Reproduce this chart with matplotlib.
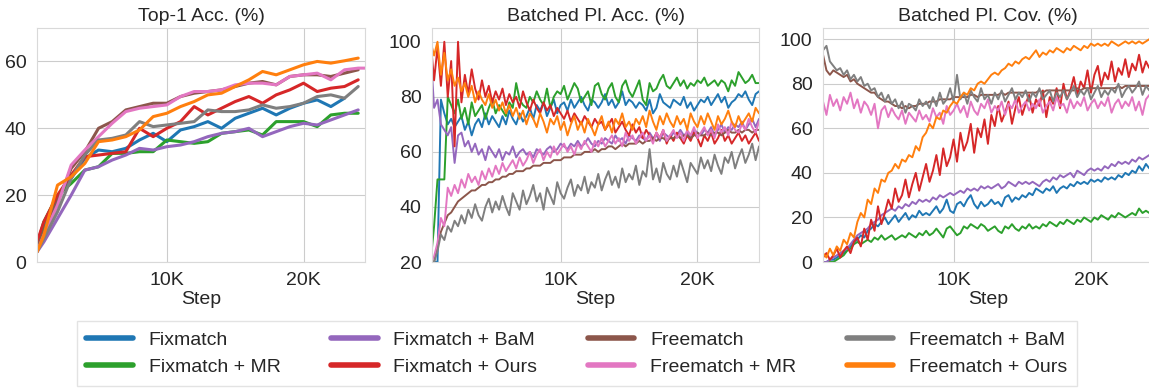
import numpy as np
import matplotlib
matplotlib.use('Agg')
import matplotlib.pyplot as plt
import seaborn as sns

sns.set_style('whitegrid')
plt.rcParams['font.family'] = ['Liberation Sans', 'DejaVu Sans']

# method names and colours (legend order)
methods = ['Fixmatch', 'Fixmatch + MR', 'Fixmatch + BaM', 'Fixmatch + Ours',
           'Freematch', 'Freematch + MR', 'Freematch + BaM', 'Freematch + Ours']
colors = ['tab:blue', 'tab:green', 'tab:purple', 'tab:red',
          'tab:brown', 'tab:pink', 'tab:gray', 'tab:orange']

# ---- Top-1 accuracy, evaluated every 1K steps ----
top1_steps = [500, 1000, 2000, 3000, 4000, 5000, 6000, 7000, 8000, 9000, 10000,
              11000, 12000, 13000, 14000, 15000, 16000, 17000, 18000, 19000,
              20000, 21000, 22000, 23000, 24000, 24500]
top1_fix = [4, 10, 19, 25, 31, 33.5, 33, 34, 36.5, 38.5, 36, 39.5, 40.5, 42, 40,
            43, 44.5, 46, 44, 46, 47.5, 48.5, 46.5, 49]
top1_fix_mr = [5, 12, 20, 23.5, 27.5, 28.5, 32.5, 32.5, 33, 33, 36.5, 36, 35.5, 36,
               38.5, 39, 39.5, 38, 42, 42, 42, 40.5, 44, 44.5, 44.5]
top1_fix_bam = [3, 6, 13, 20, 27.5, 28.5, 30.5, 32, 34, 33.5, 34.5, 35, 36, 37.5,
                38.5, 39, 40, 37.5, 39, 40.5, 41.5, 41, 42.5, 44, 45.5]
top1_fix_ours = [6, 12, 20, 26, 31.5, 32, 32.5, 33, 40, 37.5, 40, 42, 46.5, 44, 46,
                 48, 49.5, 47.5, 50, 51.5, 53.5, 51, 52, 52.5, 54.5]
top1_free = [4, 9, 18, 28, 33, 40, 42, 45.5, 46.5, 47.5, 47.5, 49.5, 50.5, 51, 51.5,
             52.5, 53.5, 54, 53, 55.5, 56, 56, 55.5, 56.5, 57.5]
top1_free_mr = [3, 8, 17, 29, 33.5, 37.5, 41.5, 45, 46, 46.5, 47, 49.5, 51, 51, 51.5,
                53, 53.5, 53.5, 53, 55.5, 56, 56.5, 54.5, 57.5, 58, 58]
top1_free_bam = [3, 7, 15, 25, 32, 36.5, 37, 38, 42, 40.5, 41, 41.5, 42, 45.5, 45,
                 45, 45.5, 47, 46, 46.5, 47.5, 49.5, 50, 49, 52.5]
top1_free_ours = [3, 8, 23, 25.5, 29.5, 36, 36.5, 37.5, 39.5, 43.5, 44.5, 46.5, 48,
                  50, 50.5, 52.5, 54.5, 57, 56, 57.5, 59, 60, 59.5, 60.2, 61]

# ---- batched pseudo-label accuracy / coverage, logged every 250 steps ----
pl_steps = np.arange(500, 24501, 250)

pacc_fix = [20, 20, 20, 79, 74, 70, 72, 69, 71, 73,
            68, 71, 66, 70, 72, 69, 74, 70, 73, 71,
            69, 73, 70, 75, 72, 70, 74, 71, 73, 76,
            72, 77, 75, 78, 73, 76, 79, 74, 77, 78,
            75, 79, 76, 78, 80, 77, 75, 79, 78, 76,
            78, 81, 77, 79, 76, 78, 82, 77, 79, 78,
            76, 78, 77, 75, 79, 74, 76, 81, 78, 77,
            76, 79, 78, 77, 80, 76, 78, 75, 77, 79,
            78, 80, 77, 79, 81, 78, 80, 76, 78, 79,
            81, 80, 82, 79, 77, 81, 82]
pacc_fix_mr = [20, 33, 50, 50, 50, 80, 77, 74, 79, 72,
               76, 70, 78, 73, 75, 77, 72, 76, 79, 74,
               77, 75, 73, 78, 76, 85, 79, 77, 76, 80,
               78, 82, 79, 77, 83, 76, 80, 82, 81, 84,
               79, 82, 85, 83, 78, 80, 82, 77, 84, 85,
               81, 79, 83, 85, 80, 78, 84, 86, 82, 80,
               83, 86, 79, 77, 85, 82, 83, 86, 88, 84,
               83, 85, 87, 84, 86, 83, 85, 84, 86, 85,
               87, 84, 85, 86, 84, 86, 85, 82, 86, 84,
               89, 87, 85, 86, 88, 85, 85]
pacc_fix_bam = [97, 76, 79, 70, 68, 66, 69, 56, 66, 67,
                62, 64, 60, 63, 59, 61, 57, 62, 60, 58,
                61, 57, 60, 59, 62, 58, 60, 61, 59, 60,
                58, 61, 60, 59, 61, 62, 60, 61, 63, 62,
                61, 63, 62, 64, 62, 63, 65, 63, 62, 64,
                63, 65, 64, 63, 66, 64, 65, 63, 66, 65,
                64, 66, 65, 64, 67, 65, 66, 64, 67, 66,
                65, 67, 66, 68, 66, 67, 65, 68, 67, 66,
                68, 67, 69, 66, 68, 70, 67, 69, 68, 70,
                69, 71, 68, 70, 72, 69, 72]
pacc_fix_ours = [100, 86, 98, 84, 100, 80, 93, 62, 100, 78,
                 88, 81, 90, 83, 79, 86, 80, 84, 78, 82,
                 79, 83, 77, 81, 78, 80, 76, 82, 78, 75,
                 79, 76, 74, 78, 75, 77, 73, 76, 74, 72,
                 75, 71, 74, 72, 70, 73, 71, 69, 72, 70,
                 71, 68, 70, 72, 67, 69, 71, 68, 66, 70,
                 67, 69, 65, 68, 66, 64, 67, 65, 68, 63,
                 66, 64, 67, 65, 63, 66, 64, 67, 65, 62,
                 66, 64, 67, 63, 65, 68, 64, 66, 63, 65,
                 67, 64, 66, 63, 65, 67, 64]
pacc_free = [20, 20, 26, 31, 34, 37, 38, 40, 42, 43,
             44, 45, 46, 46, 47, 48, 48, 49, 49, 50,
             50, 51, 51, 52, 52, 53, 53, 53, 54, 54,
             55, 55, 55, 56, 56, 56, 57, 57, 57, 58,
             58, 58, 59, 59, 59, 60, 60, 60, 61, 60,
             61, 61, 62, 62, 61, 62, 63, 62, 63, 63,
             63, 64, 63, 64, 64, 65, 64, 65, 65, 64,
             65, 65, 66, 65, 66, 66, 65, 66, 67, 66,
             66, 67, 66, 67, 67, 66, 67, 68, 67, 67,
             68, 67, 68, 68, 67, 68, 68]
pacc_free_mr = [20, 22, 27, 36, 33, 47, 44, 48, 45, 50,
                47, 52, 49, 51, 48, 53, 50, 54, 51, 55,
                52, 56, 53, 55, 57, 54, 58, 55, 57, 60,
                56, 59, 61, 57, 60, 58, 62, 59, 61, 63,
                60, 62, 59, 63, 61, 64, 62, 60, 64, 62,
                65, 62, 64, 66, 63, 65, 62, 67, 64, 66,
                63, 65, 67, 64, 66, 63, 67, 65, 68, 64,
                66, 68, 65, 67, 64, 68, 66, 69, 65, 67,
                69, 66, 68, 65, 70, 67, 69, 66, 71, 68,
                67, 70, 68, 72, 69, 67, 71]
pacc_free_bam = [20, 20, 24, 30, 28, 33, 31, 35, 33, 37,
                 34, 39, 36, 41, 37, 35, 40, 43, 38, 42,
                 39, 44, 40, 37, 45, 42, 39, 46, 41, 44,
                 48, 42, 45, 39, 47, 44, 41, 49, 45, 43,
                 47, 50, 44, 48, 46, 51, 45, 49, 47, 52,
                 46, 50, 53, 48, 51, 47, 54, 49, 52, 50,
                 55, 48, 53, 51, 61, 50, 54, 49, 56, 52,
                 50, 55, 51, 57, 53, 49, 56, 54, 52, 58,
                 54, 57, 53, 59, 55, 52, 58, 56, 60, 54,
                 58, 61, 56, 59, 63, 57, 62]
pacc_free_ours = [100, 95, 100, 88, 96, 86, 90, 84, 87, 82,
                  85, 80, 84, 78, 82, 79, 77, 81, 76, 79,
                  75, 78, 74, 77, 73, 76, 72, 75, 70, 74,
                  72, 69, 74, 71, 67, 72, 70, 73, 68, 71,
                  66, 70, 73, 68, 71, 67, 72, 69, 66, 70,
                  73, 68, 71, 67, 72, 70, 74, 69, 71, 68,
                  72, 70, 73, 69, 75, 71, 68, 73, 70, 74,
                  71, 69, 73, 70, 72, 68, 74, 71, 69, 73,
                  70, 74, 71, 68, 73, 70, 72, 75, 71, 69,
                  73, 70, 72, 74, 71, 76, 74]

pcov_fix = [0, 0, 1, 1, 2, 3, 4, 6, 7, 9,
            10, 12, 11, 14, 15, 17, 16, 18, 20, 17,
            19, 21, 18, 20, 22, 19, 21, 20, 23, 21,
            22, 21, 23, 25, 22, 24, 28, 23, 22, 26,
            27, 25, 28, 30, 26, 24, 27, 25, 26, 28,
            26, 27, 25, 29, 30, 27, 29, 28, 30, 29,
            31, 30, 33, 32, 31, 33, 32, 34, 31, 33,
            34, 33, 35, 34, 36, 35, 36, 35, 37, 36,
            37, 36, 38, 37, 38, 37, 39, 38, 40, 39,
            41, 40, 43, 41, 44, 42, 43]
pcov_fix_mr = [0, 0, 0, 0, 1, 2, 3, 5, 6, 8,
               9, 8, 9, 10, 9, 11, 10, 12, 10, 11,
               12, 10, 11, 12, 11, 13, 12, 11, 13, 12,
               14, 12, 13, 15, 13, 11, 15, 16, 14, 12,
               13, 16, 15, 17, 16, 15, 17, 16, 14, 15,
               16, 14, 13, 16, 15, 17, 15, 14, 16, 15,
               17, 15, 16, 15, 17, 16, 18, 17, 16, 18,
               17, 19, 18, 17, 19, 18, 20, 19, 18, 20,
               19, 21, 20, 19, 21, 20, 22, 21, 20, 21,
               22, 21, 24, 22, 23, 22, 23]
pcov_fix_bam = [0, 0, 1, 2, 3, 4, 5, 6, 8, 10,
                12, 13, 14, 15, 17, 18, 19, 21, 22, 23,
                24, 23, 25, 24, 26, 25, 27, 26, 28, 27,
                28, 27, 29, 28, 30, 29, 30, 31, 30, 31,
                32, 31, 33, 32, 33, 32, 34, 33, 34, 33,
                34, 35, 33, 34, 36, 35, 34, 36, 35, 36,
                35, 36, 35, 34, 36, 37, 36, 38, 37, 39,
                38, 39, 40, 38, 41, 40, 39, 41, 42, 41,
                42, 41, 43, 42, 44, 43, 45, 44, 45, 44,
                46, 45, 47, 46, 47, 48, 48]
pcov_fix_ours = [2, 4, 1, 3, 6, 2, 5, 7, 4, 9,
                 11, 7, 15, 10, 19, 14, 25, 17, 22, 28,
                 24, 33, 27, 30, 37, 29, 35, 40, 32, 38,
                 44, 36, 41, 48, 39, 51, 43, 47, 55, 45,
                 58, 50, 54, 62, 49, 60, 56, 64, 53, 66,
                 61, 70, 63, 67, 72, 62, 69, 74, 66, 71,
                 75, 67, 73, 70, 77, 65, 74, 71, 78, 69,
                 80, 73, 77, 83, 75, 81, 78, 86, 76, 84,
                 88, 79, 85, 82, 90, 81, 87, 84, 91, 83,
                 89, 86, 93, 85, 90, 87, 91]
pcov_free = [93, 86, 84, 86, 85, 84, 83, 84, 81, 82,
             80, 79, 78, 77, 76, 76, 74, 73, 72, 72,
             71, 70, 70, 69, 70, 69, 70, 70, 71, 71,
             71, 72, 72, 72, 73, 73, 73, 73, 74, 74,
             74, 74, 74, 75, 75, 74, 75, 75, 75, 75,
             75, 75, 76, 75, 76, 76, 76, 76, 76, 76,
             76, 76, 76, 77, 76, 77, 77, 77, 77, 77,
             77, 77, 77, 77, 78, 77, 78, 78, 78, 78,
             78, 78, 78, 78, 78, 78, 79, 78, 79, 79,
             79, 79, 79, 79, 79, 79, 79]
pcov_free_mr = [72, 66, 75, 70, 73, 68, 74, 71, 76, 69,
                73, 67, 72, 70, 66, 71, 60, 68, 70, 65,
                69, 66, 64, 68, 62, 67, 65, 63, 68, 64,
                66, 63, 69, 65, 67, 62, 70, 66, 68, 71,
                67, 70, 65, 72, 68, 66, 71, 69, 73, 67,
                70, 68, 72, 66, 71, 69, 73, 67, 70, 72,
                68, 71, 69, 73, 67, 70, 72, 68, 74, 70,
                71, 67, 73, 69, 72, 70, 74, 68, 71, 73,
                69, 72, 70, 74, 67, 71, 73, 69, 72, 70,
                74, 68, 72, 66, 73, 75, 71]
pcov_free_bam = [95, 97, 90, 88, 86, 87, 84, 86, 82, 84,
                 81, 83, 79, 80, 77, 78, 74, 76, 72, 75,
                 71, 73, 69, 72, 67, 71, 70, 68, 73, 70,
                 72, 69, 74, 70, 76, 71, 73, 78, 72, 84,
                 73, 76, 71, 77, 74, 72, 78, 73, 75, 71,
                 76, 73, 77, 72, 75, 78, 73, 76, 74, 77,
                 72, 76, 74, 78, 73, 75, 77, 72, 76, 74,
                 77, 73, 76, 79, 74, 77, 75, 78, 73, 76,
                 79, 74, 77, 75, 78, 76, 80, 74, 77, 79,
                 76, 78, 81, 75, 79, 77, 78]
pcov_free_ours = [4, 2, 6, 3, 7, 5, 10, 8, 13, 11,
                  18, 22, 20, 28, 26, 33, 31, 37, 36, 40,
                  41, 44, 42, 46, 45, 48, 47, 52, 50, 56,
                  58, 62, 60, 65, 64, 68, 67, 70, 72, 71,
                  74, 76, 75, 78, 77, 80, 81, 80, 82, 84,
                  85, 84, 86, 87, 89, 88, 90, 89, 91, 92,
                  91, 93, 95, 92, 94, 93, 95, 94, 96, 95,
                  94, 96, 95, 97, 96, 95, 97, 96, 98, 97,
                  98, 97, 98, 97, 99, 98, 97, 98, 99, 98,
                  99, 98, 99, 98, 99, 100, 99]

top1 = [top1_fix, top1_fix_mr, top1_fix_bam, top1_fix_ours,
        top1_free, top1_free_mr, top1_free_bam, top1_free_ours]
pacc = [pacc_fix, pacc_fix_mr, pacc_fix_bam, pacc_fix_ours,
        pacc_free, pacc_free_mr, pacc_free_bam, pacc_free_ours]
pcov = [pcov_fix, pcov_fix_mr, pcov_fix_bam, pcov_fix_ours,
        pcov_free, pcov_free_mr, pcov_free_bam, pcov_free_ours]

fig = plt.figure(figsize=(11.49, 3.88), dpi=100)
ax1 = fig.add_axes([0.0322, 0.3247, 0.2855, 0.6031])
ax2 = fig.add_axes([0.3760, 0.3247, 0.2846, 0.6031])
ax3 = fig.add_axes([0.7163, 0.3247, 0.2870, 0.6031])

lines = []
for name, c, ys in zip(methods, colors, top1):
    ln, = ax1.plot(top1_steps[:len(ys)], ys, color=c, lw=2.2, label=name)
    lines.append(ln)
for c, ys in zip(colors, pacc):
    ax2.plot(pl_steps, ys, color=c, lw=1.4)
for c, ys in zip(colors, pcov):
    ax3.plot(pl_steps, ys, color=c, lw=1.4)

ax1.set_ylim(0, 70)
ax1.set_yticks([0, 20, 40, 60])
ax2.set_ylim(20, 105)
ax2.set_yticks([20, 40, 60, 80, 100])
ax3.set_ylim(0, 105)
ax3.set_yticks([0, 20, 40, 60, 80, 100])
ax1.set_xlim(500, 24500)
ax2.set_xlim(600, 24500)
ax3.set_xlim(500, 24500)

titles = ['Top-1 Acc. (%)', 'Batched Pl. Acc. (%)', 'Batched Pl. Cov. (%)']
for ax, t in zip([ax1, ax2, ax3], titles):
    ax.set_title(t, fontsize=14, color='#262626', pad=5)
    ax.set_xticks([10000, 20000])
    ax.set_xticklabels(['10K', '20K'])
    ax.set_xlabel('Step', fontsize=14, color='#262626', labelpad=1)
    ax.tick_params(labelsize=14, colors='#262626', pad=4)
    for s in ax.spines.values():
        s.set_color('#d9d9d9')

leg = fig.legend(handles=lines, loc='upper center', bbox_to_anchor=(0.502, 0.172),
                 ncol=4, fontsize=14, frameon=True, fancybox=False,
                 handlelength=2.4, handletextpad=0.8, columnspacing=2.6,
                 borderaxespad=0, borderpad=0.5)
for h in leg.legend_handles:
    h.set_linewidth(4)
leg.get_frame().set_edgecolor('#dddddd')
for t in leg.get_texts():
    t.set_color('#262626')

fig.savefig('out.png', dpi=100)
